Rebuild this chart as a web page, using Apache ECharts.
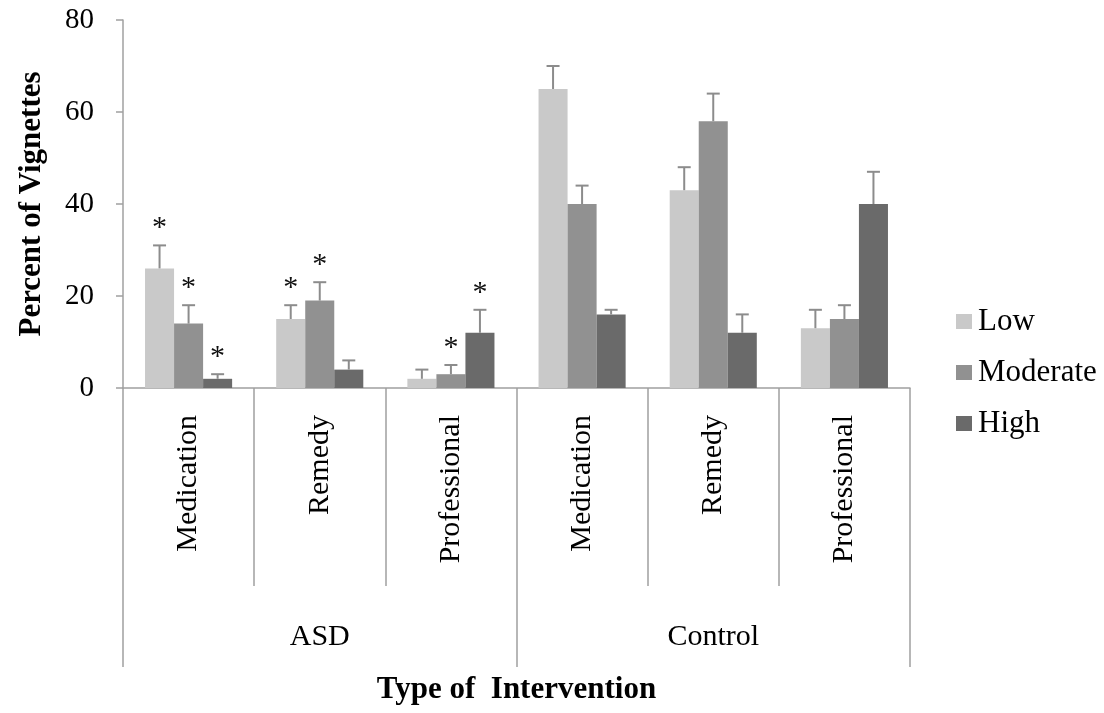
<!DOCTYPE html>
<html>
<head>
<meta charset="utf-8">
<script src="https://cdn.jsdelivr.net/npm/echarts@6/dist/echarts.min.js"></script>
<style>
html,body{margin:0;padding:0;background:#fff;}
#chart{width:1104px;height:713px;}
</style>
</head>
<body>
<div id="chart"></div>
<script>
const categories = ['Medication', 'Remedy', 'Professional', 'Medication', 'Remedy', 'Professional'];
const groups = ['ASD', 'Control'];
const seriesNames = ['Low', 'Moderate', 'High'];
const lowValues = [26, 15, 2, 65, 43, 13];
const lowErrTop = [31, 18, 4, 70, 48, 17];
const modValues = [14, 19, 3, 40, 58, 15];
const modErrTop = [18, 23, 5, 44, 64, 18];
const highValues = [2, 4, 12, 16, 12, 40];
const highErrTop = [3, 6, 17, 17, 16, 47];
const lowSig = [1, 1, 0, 0, 0, 0];
const modSig = [1, 1, 1, 0, 0, 0];
const highSig = [1, 0, 1, 0, 0, 0];
const yMin = 0, yMax = 80, yStep = 20;

const FONT = '"Liberation Serif", "DejaVu Serif", serif';
const colors = ['#c9c9c9', '#919191', '#6a6a6a'];
const CAT_GAP = 0.336;
const axisColor = '#a0a0a0';

function makeErr(k, vals, tops, sig) {
  return {
    type: 'custom',
    name: seriesNames[k] + ' error',
    z: 5,
    silent: true,
    encode: { x: 0, y: [1, 2] },
    data: vals.map((v, i) => [i, v, tops[i], sig[i]]),
    renderItem: function (params, api) {
      const i = api.value(0);
      const v = api.value(1);
      const t = api.value(2);
      const band = api.size([1, 0])[0];
      const bw = band * (1 - CAT_GAP) / 3;
      const c = api.coord([i, v]);
      const ct = api.coord([i, t]);
      const x = c[0] + (k - 1) * bw;
      const st = { stroke: '#8c8c8c', lineWidth: 2 };
      const children = [
        { type: 'line', shape: { x1: x, y1: c[1], x2: x, y2: ct[1] }, style: st },
        { type: 'line', shape: { x1: x - 6.5, y1: ct[1], x2: x + 6.5, y2: ct[1] }, style: st }
      ];
      if (api.value(3)) {
        children.push({
          type: 'text',
          style: {
            text: '*', x: x, y: ct[1] - 17,
            align: 'center', verticalAlign: 'middle',
            font: '30px ' + FONT, fill: '#111'
          }
        });
      }
      return { type: 'group', children: children };
    }
  };
}

const chart = echarts.init(document.getElementById('chart'));
chart.setOption({
  animation: false,
  backgroundColor: '#fff',
  textStyle: { fontFamily: FONT, color: '#000' },
  grid: { left: 123, right: 194, top: 20, bottom: 325, containLabel: false },
  legend: {
    data: seriesNames,
    orient: 'vertical',
    left: 951,
    top: 301,
    icon: 'rect',
    itemWidth: 16,
    itemHeight: 15,
    itemGap: 20,
    textStyle: { fontFamily: FONT, fontSize: 31, color: '#000', padding: [0, 0, 0, 1] }
  },
  xAxis: [
    {
      type: 'category',
      data: categories,
      position: 'bottom',
      axisLine: { show: true, lineStyle: { color: axisColor, width: 1.5 } },
      axisTick: { show: true, length: 198, lineStyle: { color: axisColor, width: 1.5 } },
      axisLabel: { rotate: 90, margin: 27, fontSize: 30, fontFamily: FONT, color: '#000', interval: 0 },
      splitLine: { show: false }
    },
    {
      type: 'category',
      data: groups,
      position: 'bottom',
      axisLine: { show: false },
      axisTick: { show: true, length: 279, lineStyle: { color: axisColor, width: 1.5 } },
      axisLabel: { margin: 249, fontSize: 30, fontFamily: FONT, color: '#000', verticalAlign: 'middle', interval: 0 },
      splitLine: { show: false },
      name: 'Type of  Intervention',
      nameLocation: 'middle',
      nameGap: 302,
      nameTextStyle: { fontFamily: FONT, fontSize: 31, fontWeight: 'bold', color: '#000', verticalAlign: 'middle' }
    }
  ],
  yAxis: {
    type: 'value',
    min: yMin, max: yMax, interval: yStep,
    axisLine: { show: true, lineStyle: { color: axisColor, width: 1.5 } },
    axisTick: { show: true, length: 7, lineStyle: { color: axisColor, width: 1.5 } },
    axisLabel: { margin: 29, fontSize: 29, fontFamily: FONT, color: '#000' },
    splitLine: { show: false },
    name: 'Percent of Vignettes',
    nameLocation: 'middle',
    nameRotate: 90,
    nameGap: 91,
    nameTextStyle: { fontFamily: FONT, fontSize: 31, fontWeight: 'bold', color: '#000', verticalAlign: 'middle' }
  },
  series: [
    { type: 'bar', name: 'Low', data: lowValues, itemStyle: { color: colors[0] }, barGap: '0%', barCategoryGap: (CAT_GAP * 100) + '%' },
    { type: 'bar', name: 'Moderate', data: modValues, itemStyle: { color: colors[1] }, barGap: '0%', barCategoryGap: (CAT_GAP * 100) + '%' },
    { type: 'bar', name: 'High', data: highValues, itemStyle: { color: colors[2] }, barGap: '0%', barCategoryGap: (CAT_GAP * 100) + '%' },
    makeErr(0, lowValues, lowErrTop, lowSig),
    makeErr(1, modValues, modErrTop, modSig),
    makeErr(2, highValues, highErrTop, highSig)
  ]
});
</script>
</body>
</html>
